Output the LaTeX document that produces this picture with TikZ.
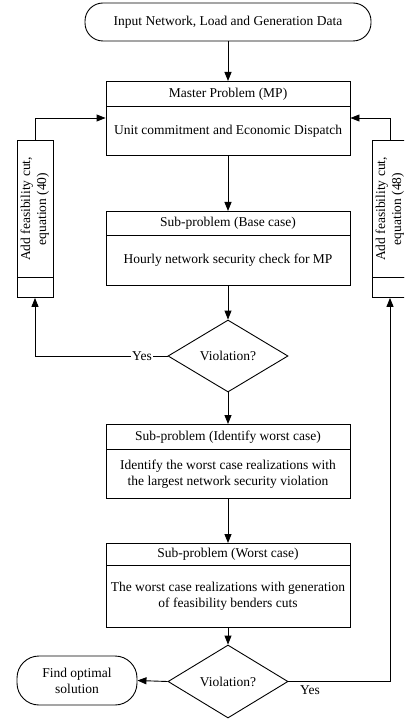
\documentclass[tikz,border=0pt]{standalone}
\usepackage{fontspec}
\setmainfont{Liberation Serif}
\usetikzlibrary{shapes.geometric,arrows.meta}
\begin{document}
\begin{tikzpicture}[x=1pt,y=-1pt,line width=0.9pt,
  every node/.style={font=\fontsize{13.5}{16}\selectfont},
  arr/.style={-{Triangle[length=9pt,width=7pt]}},
  boxpart/.style={draw,minimum width=244pt,inner sep=0pt,anchor=north,align=center},
  sidebox/.style={draw,minimum width=36pt,inner sep=0pt,anchor=north},
  term/.style={draw,align=center,inner sep=0pt},
  decide/.style={draw,diamond,aspect=1.67,minimum width=120pt,minimum height=72pt,inner sep=0pt},
  lbl/.style={fill=white,inner sep=1pt}]
\useasboundingbox (0,0) rectangle (404,719);
\clip (0,0) rectangle (404,719);

% start
\node[term,rounded corners=18pt,minimum width=286pt,minimum height=38pt] (start) at (228,22) {Input Network, Load and Generation Data};

% master problem
\node[boxpart,minimum height=25pt] (mph) at (228,81) {Master Problem (MP)};
\node[boxpart,minimum height=49pt] (mpb) at (228,106) {Unit commitment and Economic Dispatch};

% base case
\node[boxpart,minimum height=24pt] (bch) at (228,211) {Sub-problem (Base case)};
\node[boxpart,minimum height=50pt] (bcb) at (228,235) {Hourly network security check for MP};

% decision 1
\node[decide] (d1) at (228,356) {Violation?};

% identify worst case
\node[boxpart,minimum height=25pt] (idh) at (228,424) {Sub-problem (Identify worst case)};
\node[boxpart,minimum height=49pt] (idb) at (228,449) {Identify the worst case realizations with\\the largest network security violation};

% worst case
\node[boxpart,minimum height=22pt] (wch) at (228,543) {Sub-problem (Worst case)};
\node[boxpart,minimum height=62pt] (wcb) at (228,565) {The worst case realizations with generation\\of feasibility benders cuts};

% decision 2
\node[decide,minimum height=73pt] (d2) at (228,681.5) {Violation?};

% optimal
\node[term,rounded corners=22pt,minimum width=120pt,minimum height=49pt] (opt) at (77,680.5) {Find optimal\\solution};

% side boxes
\node[sidebox,minimum height=137pt] (lfu) at (35,140) {\rotatebox{90}{\begin{tabular}{@{}c@{}}Add feasibility cut,\\equation (40)\end{tabular}}};
\node[sidebox,minimum height=20pt] (lfl) at (35,277) {};
\node[sidebox,minimum height=137pt] (rfu) at (390,140) {\rotatebox{90}{\begin{tabular}{@{}c@{}}Add feasibility cut,\\equation (48)\end{tabular}}};
\node[sidebox,minimum height=20pt] (rfl) at (390,277) {};

\path (mpb.north west) ++(0,12) coordinate (mpl);
\path (mpb.north east) ++(0,12) coordinate (mpr);

% main flow
\draw[arr] (start.south) -- (mph.north);
\draw[arr] (mpb.south) -- (bch.north);
\draw[arr] (bcb.south) -- (d1.north);
\draw[arr] (d1.south) -- (idh.north);
\draw[arr] (idb.south) -- (wch.north);
\draw[arr] (wcb.south) -- (d2.north);
\draw[arr] (d2.west) -- (opt.east);

% feedback loops
\draw[arr] (d1.west) -| (lfl.south);
\draw[arr] (lfu.north) |- (mpl);
\draw[arr] (d2.east) -| (rfl.south);
\draw[arr] (rfu.north) |- (mpr);

\node[lbl] (yes1) at (142,356) {Yes};
\node (yes2) at (310,690) {Yes};
\end{tikzpicture}
\end{document}
